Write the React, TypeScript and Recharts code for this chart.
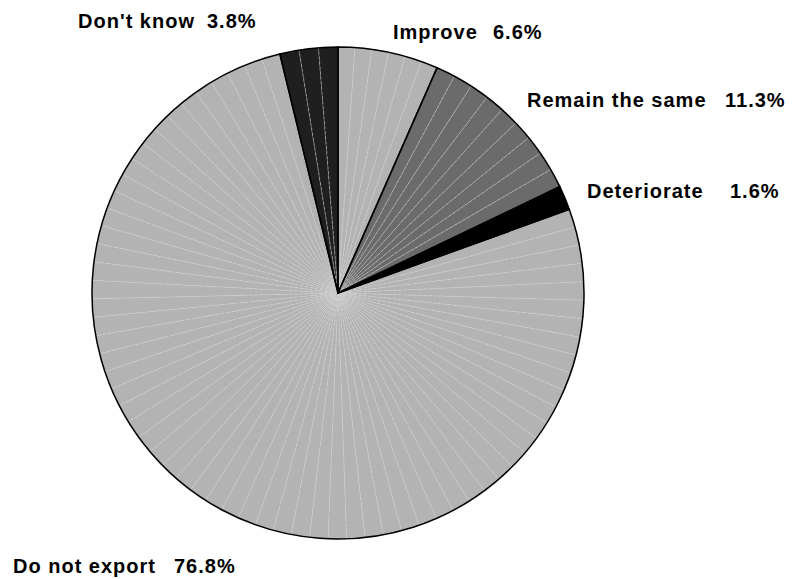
import React from 'react';
import { PieChart, Pie, Cell } from 'recharts';

const categories = ['Improve', 'Remain the same', 'Deteriorate', 'Do not export', "Don't know"];
const shares = [6.6, 11.3, 1.6, 76.8, 3.8];

const sliceColors = ['#b3b3b3', '#6b6b6b', '#000000', '#b3b3b3', '#1f1f1f'];

// where each "name  value%" pair sits (name x, value x, baseline y)
const labelSpots = [
  { nameX: 385, valueX: 485, y: 31 },
  { nameX: 519, valueX: 717, y: 99 },
  { nameX: 579, valueX: 722, y: 190 },
  { nameX: 5, valueX: 166, y: 565 },
  { nameX: 70, valueX: 199, y: 20 },
];

const data = categories.map((name, i) => ({ name, value: shares[i] }));

// thin wedges inside each slice, giving the faint radial seams
const seams = data.flatMap((d, i) => {
  const n = Math.max(1, Math.round(d.value / 1.2));
  return Array.from({ length: n }, (_, k) => ({ name: `${d.name}-${k}`, value: d.value / n, color: sliceColors[i] }));
});

const labelFont = {
  fontFamily: 'Liberation Sans, Arial, sans-serif',
  fontWeight: 700,
  fontSize: 20,
  letterSpacing: 1,
  fill: '#000',
};

const renderLabel = (props: any) => {
  const spot = labelSpots[props.index];
  if (!spot) return null;
  return (
    <g>
      <text x={spot.nameX} y={spot.y} style={labelFont}>{props.name}</text>
      <text x={spot.valueX} y={spot.y} style={labelFont}>{`${props.value.toFixed(1)}%`}</text>
    </g>
  );
};

export default function App() {
  const cx = 325;
  const cy = 280;
  const r = 246;
  return (
    <PieChart width={785} height={571}>
      <Pie
        data={seams}
        dataKey="value"
        cx={cx}
        cy={cy}
        outerRadius={r}
        startAngle={90}
        endAngle={-270}
        stroke="#d2d2d2"
        strokeWidth={0.5}
        strokeDasharray="3 2"
        isAnimationActive={false}
        labelLine={false}
      >
        {seams.map((s) => (
          <Cell key={s.name} fill={s.color} />
        ))}
      </Pie>
      <Pie
        data={data}
        dataKey="value"
        cx={cx}
        cy={cy}
        outerRadius={r}
        startAngle={90}
        endAngle={-270}
        stroke="#000"
        strokeWidth={1.5}
        isAnimationActive={false}
        labelLine={false}
        label={renderLabel}
      >
        {data.map((d) => (
          <Cell key={d.name} fill="none" />
        ))}
      </Pie>
    </PieChart>
  );
}
